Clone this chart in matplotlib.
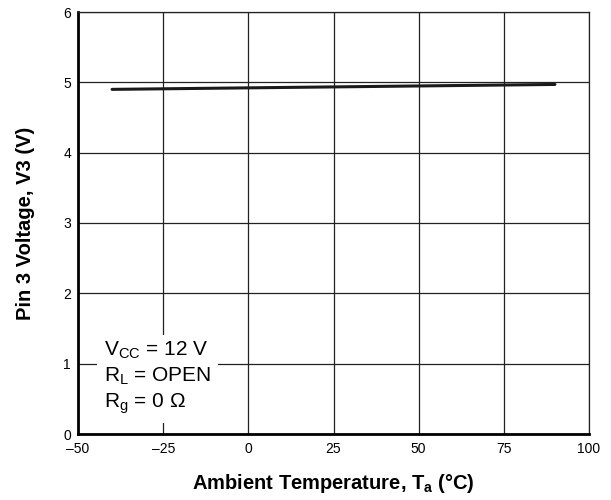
import matplotlib.pyplot as plt

plt.rcParams['font.family'] = ['Liberation Sans', 'DejaVu Sans']
plt.rcParams['mathtext.fontset'] = 'custom'
plt.rcParams['mathtext.rm'] = 'Liberation Sans'
plt.rcParams['mathtext.it'] = 'Liberation Sans'
plt.rcParams['mathtext.bf'] = 'Liberation Sans:bold'

# data
temp = [-40, 90]
v3 = [4.90, 4.97]
xticks = [-50, -25, 0, 25, 50, 75, 100]
xlabels = ['\u201350', '\u201325', '0', '25', '50', '75', '100']
yticks = [0, 1, 2, 3, 4, 5, 6]

fig = plt.figure(figsize=(6.11, 5.0), dpi=100)
ax = fig.add_axes([0.1277, 0.132, 0.8363, 0.844])

ax.plot(temp, v3, color='#1a1a1a', lw=2.2, solid_capstyle='round', zorder=3)

ax.set_xlim(-50, 100)
ax.set_ylim(0, 6)
ax.set_xticks(xticks)
ax.set_xticklabels(xlabels)
ax.set_yticks(yticks)
ax.tick_params(length=0, labelsize=10)
ax.tick_params(axis='x', pad=6)
ax.tick_params(axis='y', pad=5)
ax.grid(True, color='#222222', lw=0.9)
ax.set_axisbelow(True)

for s in ['top', 'right']:
    ax.spines[s].set_linewidth(0.9)
    ax.spines[s].set_color('#222222')
for s in ['left', 'bottom']:
    ax.spines[s].set_linewidth(2.0)

ax.set_xlabel(r'Ambient Temperature, T$_\mathbf{a}$ (°C)', fontsize=14.5,
              fontweight='bold', labelpad=11)
ax.set_ylabel('Pin 3 Voltage, V3 (V)', fontsize=14.5, fontweight='bold',
              labelpad=20)

ax.text(-42.5, 0.80,
        'V$_{\\rm CC}$ = 12 V\nR$_{\\rm L}$ = OPEN\nR$_{\\rm g}$ = 0 \u03a9',
        fontsize=15, va='center', ha='left', linespacing=1.3,
        bbox=dict(facecolor='white', edgecolor='none', pad=5), zorder=4)

fig.savefig('out.png', dpi=100)
